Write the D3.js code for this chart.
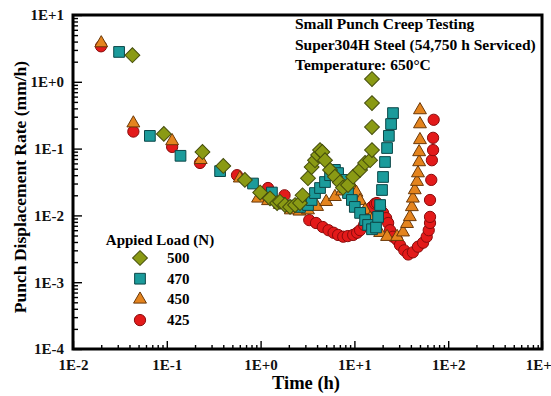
<!DOCTYPE html>
<html>
<head>
<meta charset="utf-8">
<script src="https://cdn.jsdelivr.net/npm/d3@7"></script>
<style>
  body { margin: 0; background: #fff; }
</style>
</head>
<body>
<div id="chart"></div>
<script>
// ---- data (time in h, rate in mm/h) ----
const loads = ["500", "470", "450", "425"];

const series500 = [
    [0.043, 2.5], [0.093, 0.166], [0.24, 0.089], [0.40, 0.055], [0.68, 0.034],
    [0.99, 0.022], [1.26, 0.018], [1.5, 0.0153], [1.61, 0.016], [1.82, 0.0143],
    [2.06, 0.0134], [2.33, 0.0143], [2.63, 0.0153], [2.8, 0.020], [3.2, 0.036],
    [3.5, 0.053], [3.8, 0.067], [4.1, 0.080], [4.3, 0.095], [4.55, 0.089],
    [4.86, 0.067], [5.5, 0.048], [6.2, 0.038], [7.0, 0.031], [7.55, 0.026],
    [8.55, 0.0285], [9.7, 0.038], [11.5, 0.048], [13, 0.061], [14.7, 0.067],
    [15.4, 0.095], [15.4, 0.21], [15.4, 0.48], [15.4, 1.1]
];

const series470 = [
    [0.031, 2.8], [0.066, 0.155], [0.14, 0.078], [0.37, 0.046], [0.83, 0.030],
    [1.32, 0.022], [1.61, 0.0153], [2.06, 0.014], [2.63, 0.0134], [3.2, 0.0143],
    [3.5, 0.017], [3.8, 0.0216], [4.3, 0.0257], [4.86, 0.0316], [5.5, 0.040],
    [6.2, 0.048], [6.7, 0.043], [7.4, 0.034], [7.9, 0.0266], [8.55, 0.0216],
    [9.4, 0.017], [10.1, 0.0134], [11.5, 0.0109], [13, 0.0085], [14, 0.0072],
    [15.4, 0.0062], [17, 0.0066], [17.9, 0.0095], [18.8, 0.0143], [19.7, 0.024],
    [20.2, 0.0376], [21.2, 0.063], [22.3, 0.102], [23.3, 0.155], [24.6, 0.233],
    [25.8, 0.34]
];

const series450 = [
    [0.020, 3.8], [0.044, 0.24], [0.114, 0.13], [0.23, 0.068], [0.60, 0.036],
    [0.94, 0.018], [1.2, 0.0165], [1.6, 0.0145], [2.1, 0.012], [2.6, 0.0115],
    [3.2, 0.012], [4.0, 0.0135], [5.0, 0.016], [6.2, 0.019], [7.4, 0.023],
    [8.5, 0.027], [9.5, 0.027], [10.5, 0.022], [11.5, 0.0165], [13, 0.012],
    [14.7, 0.009], [16.6, 0.0072], [18.8, 0.0055], [22.3, 0.0048], [28.5, 0.0048],
    [33, 0.0056], [36.4, 0.0075], [39, 0.0095], [41, 0.0134], [42, 0.018],
    [44, 0.024], [46.5, 0.032], [47.6, 0.043], [49, 0.063], [49, 0.089],
    [50, 0.135], [50, 0.233], [50, 0.378]
];

const series425 = [
    [0.0199, 3.4], [0.044, 0.18], [0.114, 0.106], [0.226, 0.061], [0.56, 0.040],
    [1.2, 0.0257], [1.8, 0.020], [2.6, 0.014], [3.3, 0.0085], [3.9, 0.0077],
    [4.6, 0.0067], [5.3, 0.006], [6.0, 0.0055], [6.7, 0.0051], [7.6, 0.0048],
    [8.5, 0.0049], [9.7, 0.0051], [10.7, 0.0055], [11.5, 0.006], [12.7, 0.0072],
    [13.6, 0.0085], [14.7, 0.0109], [15.4, 0.0134], [16.6, 0.015], [17.4, 0.0153],
    [18.8, 0.0134], [20.2, 0.0109], [21.8, 0.0091], [22.9, 0.0077], [24, 0.006],
    [25.8, 0.0048], [28.5, 0.0043], [30.6, 0.0036], [34, 0.003], [37.5, 0.0026],
    [42, 0.0028], [47.6, 0.0034], [54, 0.0039], [59, 0.0048], [62, 0.006],
    [64, 0.0077], [64, 0.0095], [64, 0.017], [66, 0.034], [67, 0.067],
    [69, 0.095], [69, 0.145], [70, 0.27]
];

const xTicks = [0.01, 0.1, 1, 10, 100, 1000];
const yTicks = [1e-4, 1e-3, 1e-2, 1e-1, 1, 10];
const titleLines = ["Small Punch Creep Testing", "Super304H Steel (54,750 h Serviced)", "Temperature: 650°C"];

// ---- layout ----
const width = 551, height = 396;
const margin = { top: 15, right: 9, bottom: 47, left: 73 };
const FONT = "'Liberation Serif', Tinos, 'Times New Roman', 'DejaVu Serif', serif";

const svg = d3.select("#chart").append("svg")
    .attr("width", width)
    .attr("height", height)
    .style("font-family", FONT)
    .style("font-weight", "bold");

const x = d3.scaleLog().domain([0.01, 1000]).range([margin.left, width - margin.right]);
const y = d3.scaleLog().domain([1e-4, 10]).range([height - margin.bottom, margin.top]);

// minor ticks 2..9 inside every decade
const minorOf = ticks => ticks.slice(0, -1).flatMap(d => d3.range(2, 10).map(k => k * d));

const fmt = d => {
    const e = Math.round(Math.log10(d));
    return "1E" + (e >= 0 ? "+" : "-") + Math.abs(e);
};

// bottom axis
const gx = svg.append("g").attr("transform", `translate(0,${y.range()[0]})`);
gx.append("g").call(d3.axisBottom(x).tickValues(minorOf(xTicks)).tickSize(-4).tickFormat(""));
gx.append("g").call(d3.axisBottom(x).tickValues(xTicks).tickSize(-8).tickPadding(10).tickFormat(fmt));

// left axis
const gy = svg.append("g").attr("transform", `translate(${x.range()[0]},0)`);
gy.append("g").call(d3.axisLeft(y).tickValues(minorOf(yTicks)).tickSize(-5).tickFormat(""));
gy.append("g").call(d3.axisLeft(y).tickValues(yTicks).tickSize(-9).tickPadding(9).tickFormat(fmt));

svg.selectAll(".domain").remove();
svg.selectAll("g").attr("font-family", null).attr("font-size", null);
svg.selectAll(".tick line").attr("stroke", "#000").attr("stroke-width", 1.4);
svg.selectAll(".tick text").style("font-size", "15px").attr("fill", "#111");

// frame
svg.append("rect")
    .attr("x", x.range()[0])
    .attr("y", y.range()[1])
    .attr("width", x.range()[1] - x.range()[0])
    .attr("height", y.range()[0] - y.range()[1])
    .attr("fill", "none")
    .attr("stroke", "#000")
    .attr("stroke-width", 3);

// markers
const styles = {
    "500": { data: series500, fill: "#8a9a14", stroke: "#454d0c", shape: d3.symbolSquare, size: 110, rot: 45 },
    "470": { data: series470, fill: "#1b9b9b", stroke: "#0c4748", shape: d3.symbolSquare, size: 115, rot: 0 },
    "450": { data: series450, fill: "#e4841e", stroke: "#6b3808", shape: d3.symbolTriangle, size: 72, rot: 0 },
    "425": { data: series425, fill: "#e31a1a", stroke: "#8a0c0c", shape: d3.symbolCircle, size: 100, rot: 0 }
};

// draw 425 first so the others sit on top, as in the original
["425", "450", "470", "500"].forEach(key => {
    const s = styles[key];
    svg.append("g").attr("class", "series-" + key)
        .selectAll("path")
        .data(s.data)
        .join("path")
        .attr("d", d3.symbol().type(s.shape).size(s.size))
        .attr("transform", d => `translate(${x(d[0])},${y(d[1])}) rotate(${s.rot})`)
        .attr("fill", s.fill)
        .attr("stroke", s.stroke)
        .attr("stroke-width", 1);
});

// legend
const legend = svg.append("g").attr("transform", "translate(140,240)");
legend.append("text")
    .attr("x", 20)
    .attr("y", 5)
    .attr("text-anchor", "middle")
    .style("font-size", "15px")
    .text("Appied Load (N)");

loads.forEach((key, i) => {
    const s = styles[key];
    const row = legend.append("g").attr("transform", `translate(0,${18 + i * 20.7})`);
    row.append("path")
        .attr("d", d3.symbol().type(s.shape).size(s.size))
        .attr("transform", `rotate(${s.rot})`)
        .attr("fill", s.fill)
        .attr("stroke", s.stroke);
    row.append("text")
        .attr("x", 27)
        .attr("y", 5)
        .style("font-size", "15px")
        .text(key);
});

// annotation block
svg.append("g").selectAll("text")
    .data(titleLines)
    .join("text")
    .attr("x", 295)
    .attr("y", (d, i) => 29 + i * 20.5)
    .style("font-size", "15.5px")
    .text(d => d);

// axis titles
svg.append("text")
    .attr("x", 306)
    .attr("y", 389)
    .attr("text-anchor", "middle")
    .style("font-size", "18.5px")
    .text("Time (h)");

svg.append("text")
    .attr("transform", "translate(26,187) rotate(-90)")
    .attr("text-anchor", "middle")
    .style("font-size", "17.5px")
    .text("Punch Displacement Rate (mm/h)");
</script>
</body>
</html>
